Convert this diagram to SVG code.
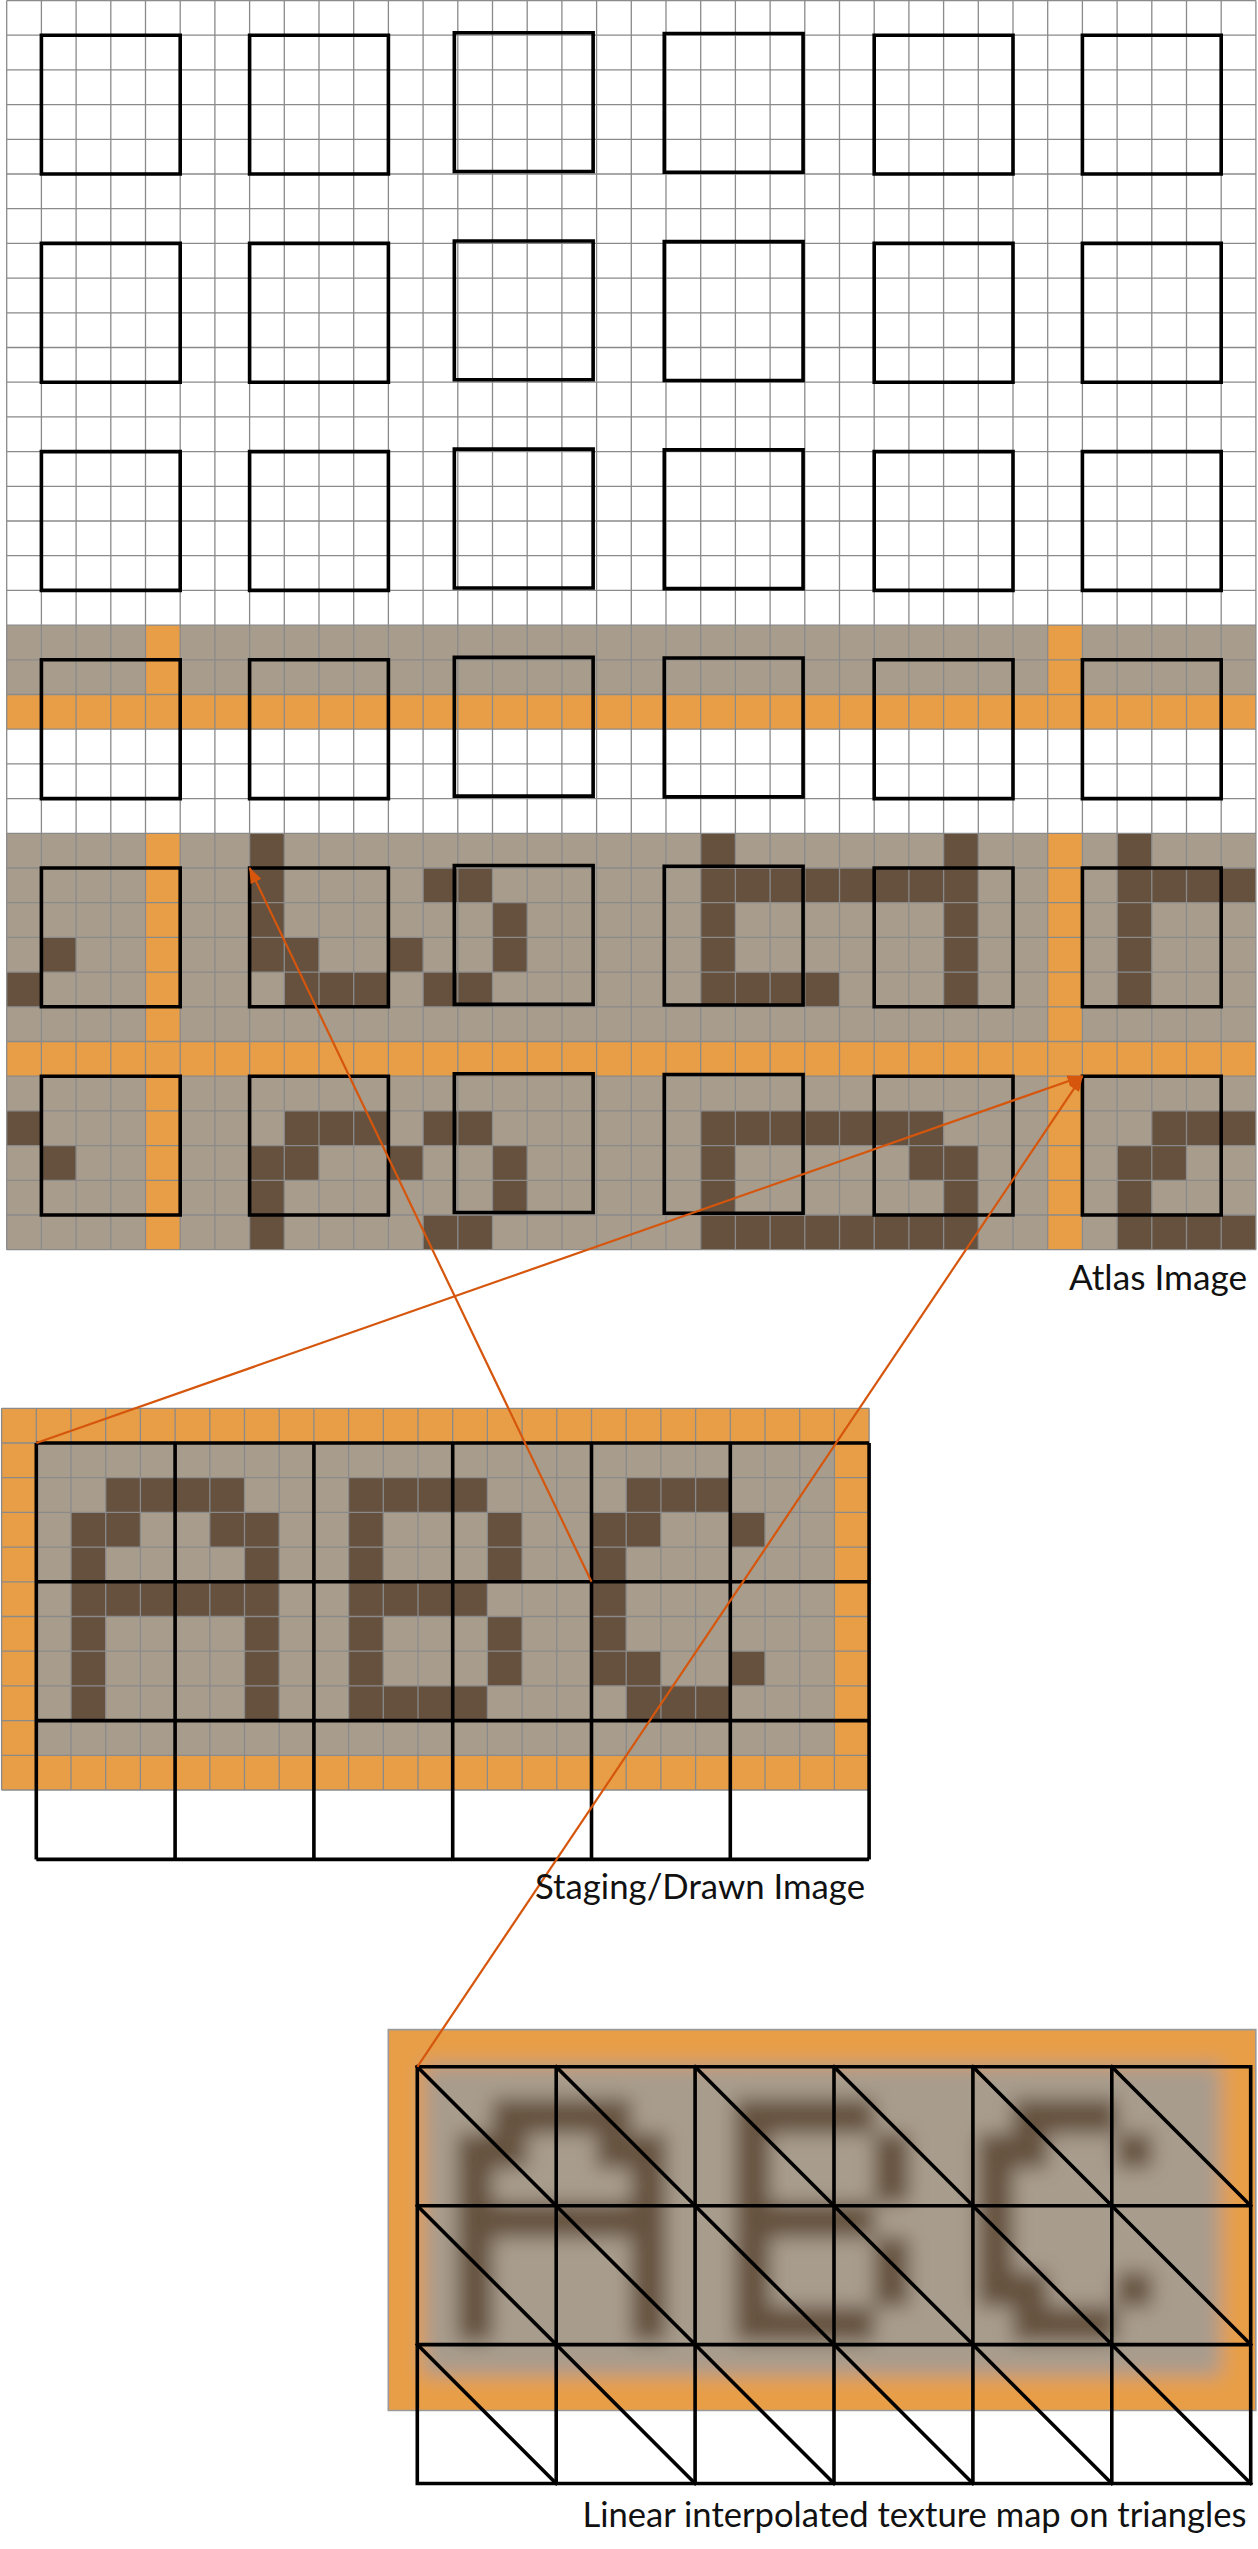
<svg xmlns="http://www.w3.org/2000/svg" xmlns:xlink="http://www.w3.org/1999/xlink" width="1258" height="2549" viewBox="0 0 1258 2549">
<style>
.bg{fill:#ffffff}
.gr{fill:#A89C8D}
.dk{fill:#65513E}
.or{fill:#E89E46}
.grid{fill:none;stroke:#8a8a8a;stroke-width:1.3;vector-effect:non-scaling-stroke}
.box{fill:none;stroke:#000;stroke-width:3.6;stroke-linejoin:miter;vector-effect:non-scaling-stroke}
.mesh{fill:none;stroke:#000;stroke-width:3.6;stroke-linecap:square}
.conn{fill:none;stroke:#D5560C;stroke-width:2.2}
.lbl{font-family:Lato,"Noto Sans","Liberation Sans",sans-serif;font-size:34px;fill:#111}
</style>
<defs>
<marker id="ah" markerUnits="userSpaceOnUse" viewBox="0 0 16 12" markerWidth="16" markerHeight="12" refX="15" refY="6" orient="auto">
<path d="M0,0 L16,6 L0,12 z" fill="#D5560C"/>
</marker>
<g id="abc">
<rect class="gr" x="1" y="1" width="23" height="9"/>
<g class="dk">
<rect x="3" y="2" width="4" height="1"/><rect x="10" y="2" width="4" height="1"/><rect x="18" y="2" width="3" height="1"/>
<rect x="2" y="3" width="2" height="1"/><rect x="6" y="3" width="2" height="1"/><rect x="10" y="3" width="1" height="1"/><rect x="14" y="3" width="1" height="1"/><rect x="17" y="3" width="2" height="1"/><rect x="21" y="3" width="1" height="1"/>
<rect x="2" y="4" width="1" height="1"/><rect x="7" y="4" width="1" height="1"/><rect x="10" y="4" width="1" height="1"/><rect x="14" y="4" width="1" height="1"/><rect x="17" y="4" width="1" height="1"/>
<rect x="2" y="5" width="6" height="1"/><rect x="10" y="5" width="4" height="1"/><rect x="17" y="5" width="1" height="1"/>
<rect x="2" y="6" width="1" height="1"/><rect x="7" y="6" width="1" height="1"/><rect x="10" y="6" width="1" height="1"/><rect x="14" y="6" width="1" height="1"/><rect x="17" y="6" width="1" height="1"/>
<rect x="2" y="7" width="1" height="1"/><rect x="7" y="7" width="1" height="1"/><rect x="10" y="7" width="1" height="1"/><rect x="14" y="7" width="1" height="1"/><rect x="17" y="7" width="2" height="1"/><rect x="21" y="7" width="1" height="1"/>
<rect x="2" y="8" width="1" height="1"/><rect x="7" y="8" width="1" height="1"/><rect x="10" y="8" width="4" height="1"/><rect x="18" y="8" width="3" height="1"/>
</g>
</g>
<filter id="blur" x="-0.1" y="-0.1" width="1.2" height="1.2">
<feGaussianBlur stdDeviation="0.28"/>
</filter>
<clipPath id="imgclip"><rect x="0" y="0" width="25" height="11"/></clipPath>
</defs>

<rect class="bg" x="0" y="0" width="1258" height="2549"/>

<g id="atlas" transform="translate(6.7,0.5) scale(34.7)">
<rect class="bg" x="0" y="0" width="36" height="36"/>
<rect class="gr" x="0" y="18" width="36" height="2"/>
<rect class="or" x="0" y="20" width="36" height="1"/>
<rect class="or" x="4" y="18" width="1" height="2"/>
<rect class="or" x="30" y="18" width="1" height="2"/>
<rect class="gr" x="0" y="24" width="36" height="12"/>
<rect class="or" x="0" y="30" width="36" height="1"/>
<rect class="or" x="4" y="24" width="1" height="12"/>
<rect class="or" x="30" y="24" width="1" height="12"/>
<g class="dk">
<rect x="7" y="24" width="1" height="1"/><rect x="20" y="24" width="1" height="1"/><rect x="27" y="24" width="1" height="1"/><rect x="32" y="24" width="1" height="1"/>
<rect x="7" y="25" width="1" height="1"/><rect x="12" y="25" width="2" height="1"/><rect x="20" y="25" width="8" height="1"/><rect x="32" y="25" width="4" height="1"/>
<rect x="7" y="26" width="1" height="1"/><rect x="14" y="26" width="1" height="1"/><rect x="20" y="26" width="1" height="1"/><rect x="27" y="26" width="1" height="1"/><rect x="32" y="26" width="1" height="1"/>
<rect x="1" y="27" width="1" height="1"/><rect x="7" y="27" width="2" height="1"/><rect x="11" y="27" width="1" height="1"/><rect x="14" y="27" width="1" height="1"/><rect x="20" y="27" width="1" height="1"/><rect x="27" y="27" width="1" height="1"/><rect x="32" y="27" width="1" height="1"/>
<rect x="0" y="28" width="1" height="1"/><rect x="8" y="28" width="3" height="1"/><rect x="12" y="28" width="2" height="1"/><rect x="20" y="28" width="4" height="1"/><rect x="27" y="28" width="1" height="1"/><rect x="32" y="28" width="1" height="1"/>
<rect x="0" y="32" width="1" height="1"/><rect x="8" y="32" width="3" height="1"/><rect x="12" y="32" width="2" height="1"/><rect x="20" y="32" width="7" height="1"/><rect x="33" y="32" width="3" height="1"/>
<rect x="1" y="33" width="1" height="1"/><rect x="7" y="33" width="2" height="1"/><rect x="11" y="33" width="1" height="1"/><rect x="14" y="33" width="1" height="1"/><rect x="20" y="33" width="1" height="1"/><rect x="26" y="33" width="2" height="1"/><rect x="32" y="33" width="2" height="1"/>
<rect x="7" y="34" width="1" height="1"/><rect x="14" y="34" width="1" height="1"/><rect x="20" y="34" width="1" height="1"/><rect x="27" y="34" width="1" height="1"/><rect x="32" y="34" width="1" height="1"/>
<rect x="7" y="35" width="1" height="1"/><rect x="12" y="35" width="2" height="1"/><rect x="20" y="35" width="8" height="1"/><rect x="32" y="35" width="4" height="1"/>
</g>
<path class="grid" d="M0 0V36M1 0V36M2 0V36M3 0V36M4 0V36M5 0V36M6 0V36M7 0V36M8 0V36M9 0V36M10 0V36M11 0V36M12 0V36M13 0V36M14 0V36M15 0V36M16 0V36M17 0V36M18 0V36M19 0V36M20 0V36M21 0V36M22 0V36M23 0V36M24 0V36M25 0V36M26 0V36M27 0V36M28 0V36M29 0V36M30 0V36M31 0V36M32 0V36M33 0V36M34 0V36M35 0V36M36 0V36M0 0H36M0 1H36M0 2H36M0 3H36M0 4H36M0 5H36M0 6H36M0 7H36M0 8H36M0 9H36M0 10H36M0 11H36M0 12H36M0 13H36M0 14H36M0 15H36M0 16H36M0 17H36M0 18H36M0 19H36M0 20H36M0 21H36M0 22H36M0 23H36M0 24H36M0 25H36M0 26H36M0 27H36M0 28H36M0 29H36M0 30H36M0 31H36M0 32H36M0 33H36M0 34H36M0 35H36M0 36H36"/>
<g id="atlas-boxes">
<rect class="box" x="1" y="1" width="4" height="4"/><rect class="box" x="7" y="1" width="4" height="4"/><rect class="box" x="12.9" y="0.93" width="4" height="4"/><rect class="box" x="18.95" y="0.95" width="4" height="4"/><rect class="box" x="25" y="1" width="4" height="4"/><rect class="box" x="31" y="1" width="4" height="4"/>
<rect class="box" x="1" y="7" width="4" height="4"/><rect class="box" x="7" y="7" width="4" height="4"/><rect class="box" x="12.9" y="6.93" width="4" height="4"/><rect class="box" x="18.95" y="6.95" width="4" height="4"/><rect class="box" x="25" y="7" width="4" height="4"/><rect class="box" x="31" y="7" width="4" height="4"/>
<rect class="box" x="1" y="13" width="4" height="4"/><rect class="box" x="7" y="13" width="4" height="4"/><rect class="box" x="12.9" y="12.93" width="4" height="4"/><rect class="box" x="18.95" y="12.95" width="4" height="4"/><rect class="box" x="25" y="13" width="4" height="4"/><rect class="box" x="31" y="13" width="4" height="4"/>
<rect class="box" x="1" y="19" width="4" height="4"/><rect class="box" x="7" y="19" width="4" height="4"/><rect class="box" x="12.9" y="18.93" width="4" height="4"/><rect class="box" x="18.95" y="18.95" width="4" height="4"/><rect class="box" x="25" y="19" width="4" height="4"/><rect class="box" x="31" y="19" width="4" height="4"/>
<rect class="box" x="1" y="25" width="4" height="4"/><rect class="box" x="7" y="25" width="4" height="4"/><rect class="box" x="12.9" y="24.93" width="4" height="4"/><rect class="box" x="18.95" y="24.95" width="4" height="4"/><rect class="box" x="25" y="25" width="4" height="4"/><rect class="box" x="31" y="25" width="4" height="4"/>
<rect class="box" x="1" y="31" width="4" height="4"/><rect class="box" x="7" y="31" width="4" height="4"/><rect class="box" x="12.9" y="30.93" width="4" height="4"/><rect class="box" x="18.95" y="30.95" width="4" height="4"/><rect class="box" x="25" y="31" width="4" height="4"/><rect class="box" x="31" y="31" width="4" height="4"/>
</g>
</g>

<g id="staging" transform="translate(1.6,1408.3) scale(34.7)">
<rect class="or" x="0" y="0" width="25" height="11"/>
<use xlink:href="#abc" href="#abc"/>
<path class="grid" d="M0 0V11M1 0V11M2 0V11M3 0V11M4 0V11M5 0V11M6 0V11M7 0V11M8 0V11M9 0V11M10 0V11M11 0V11M12 0V11M13 0V11M14 0V11M15 0V11M16 0V11M17 0V11M18 0V11M19 0V11M20 0V11M21 0V11M22 0V11M23 0V11M24 0V11M25 0V11M0 0H25M0 1H25M0 2H25M0 3H25M0 4H25M0 5H25M0 6H25M0 7H25M0 8H25M0 9H25M0 10H25M0 11H25"/>
<path class="box" d="M1 1V13M5 1V13M9 1V13M13 1V13M17 1V13M21 1V13M25 1V13M1 1H25M1 5H25M1 9H25M1 13H25"/>
</g>

<g id="texture-map">
<g transform="translate(388.3,2029.6) scale(34.7,34.63)">
<g clip-path="url(#imgclip)">
<g filter="url(#blur)">
<rect class="or" x="-2" y="-2" width="29" height="15"/>
<use xlink:href="#abc" href="#abc"/>
</g>
</g>
<rect x="0" y="0" width="25" height="11" fill="none" stroke="#9a9a9a" stroke-width="1.6" vector-effect="non-scaling-stroke"/>
</g>
<path class="mesh" d="M417.3 2066.8V2483.5M556.2 2066.8V2483.5M695.1 2066.8V2483.5M834 2066.8V2483.5M972.9 2066.8V2483.5M1111.8 2066.8V2483.5M1250.7 2066.8V2483.5M417.3 2066.8H1250.7M417.3 2205.7H1250.7M417.3 2344.6H1250.7M417.3 2483.5H1250.7"/>
<path class="mesh" stroke-linecap="butt" d="M417.3 2066.8L556.2 2205.7M556.2 2066.8L695.1 2205.7M695.1 2066.8L834 2205.7M834 2066.8L972.9 2205.7M972.9 2066.8L1111.8 2205.7M1111.8 2066.8L1250.7 2205.7M417.3 2205.7L556.2 2344.6M556.2 2205.7L695.1 2344.6M695.1 2205.7L834 2344.6M834 2205.7L972.9 2344.6M972.9 2205.7L1111.8 2344.6M1111.8 2205.7L1250.7 2344.6M417.3 2344.6L556.2 2483.5M556.2 2344.6L695.1 2483.5M695.1 2344.6L834 2483.5M834 2344.6L972.9 2483.5M972.9 2344.6L1111.8 2483.5M1111.8 2344.6L1250.7 2483.5"/>
</g>

<g id="connectors">
<line class="conn" x1="591.5" y1="1581.8" x2="249.6" y2="868" marker-end="url(#ah)"/>
<line class="conn" x1="36.3" y1="1443" x2="1082.4" y2="1076.2" marker-end="url(#ah)"/>
<line class="conn" x1="417.3" y1="2066.8" x2="1082.4" y2="1076.2" marker-end="url(#ah)"/>
</g>

<g id="labels">
<text class="lbl" x="1069" y="1290" textLength="178" lengthAdjust="spacingAndGlyphs">Atlas Image</text>
<text class="lbl" x="535" y="1899" textLength="330" lengthAdjust="spacingAndGlyphs">Staging/Drawn Image</text>
<text class="lbl" x="582.5" y="2527" textLength="664" lengthAdjust="spacingAndGlyphs">Linear interpolated texture map on triangles</text>
</g>
</svg>
